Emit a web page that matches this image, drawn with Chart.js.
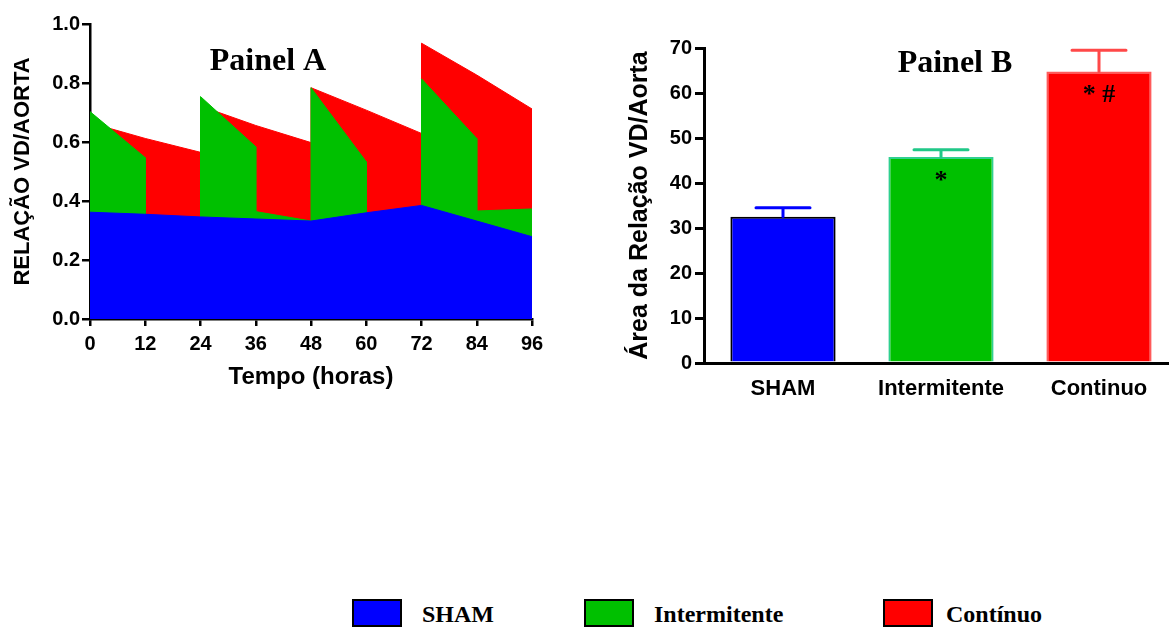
<!DOCTYPE html>
<html>
<head>
<meta charset="utf-8">
<script src="https://cdn.jsdelivr.net/npm/chart.js@4.4.1/dist/chart.umd.min.js"></script>
<style>
  html, body { margin: 0; padding: 0; background: #fff; }
  #wrap { position: relative; width: 1169px; height: 627px; overflow: hidden; }
  #chartA { position: absolute; left: 0; top: 0; }
  #chartB { position: absolute; left: 600px; top: 0; }
  .key { position: absolute; top: 599px; width: 50px; height: 28px; border: 2px solid #000; box-sizing: border-box; }
  .keyLabel { position: absolute; top: 602px; font: bold 24px "Liberation Serif", "Times New Roman", serif; line-height: 24px; color: #000; white-space: nowrap; }
</style>
</head>
<body>
<div id="wrap">
  <canvas id="chartA" width="560" height="400"></canvas>
  <canvas id="chartB" width="580" height="420"></canvas>
  <div id="legend"></div>
</div>
<script>
'use strict';

// ── Painel A: VD/Aorta ratio over time ────────
const HOURS_SHAM = [0, 12, 24, 36, 48, 60, 72, 84, 96];
const SHAM_RATIO = [0.362, 0.355, 0.346, 0.339, 0.332, 0.360, 0.385, 0.332, 0.279];

const HOURS_INTER = [0, 12, 12, 24, 24, 36, 36, 48, 48, 60, 60, 72, 72, 84, 84, 96];
const INTER_RATIO = [0.703, 0.547, 0.35, 0.34, 0.754, 0.584, 0.364, 0.332, 0.784, 0.533, 0.35, 0.37, 0.814, 0.612, 0.366, 0.373];

const HOURS_CONT = [0, 12, 24, 24, 36, 48, 48, 60, 72, 72, 84, 96];
const CONT_RATIO = [0.665, 0.612, 0.565, 0.722, 0.656, 0.598, 0.784, 0.708, 0.629, 0.935, 0.827, 0.712];

const HOUR_TICKS = [0, 12, 24, 36, 48, 60, 72, 84, 96];
const RATIO_TICKS = [0, 0.2, 0.4, 0.6, 0.8, 1.0];

// ── Painel B: area under the curve ────────────
const GROUPS    = ['SHAM', 'Intermitente', 'Continuo'];
const AREA_MEAN = [32.5, 45.8, 64.8];
const AREA_SEM  = [2.0, 1.6, 4.7];
const AREA_MARK = ['', '*', '* #'];
const AREA_TICKS = [0, 10, 20, 30, 40, 50, 60, 70];

// ── Legend ────────────────────────────────────
const LEGEND_NAMES = ['SHAM', 'Intermitente', 'Contínuo'];

const BLUE  = '#0000ff';
const GREEN = '#00c000';
const RED   = '#ff0000';
const BAR_BORDER = ['#000000', '#30d090', '#ff5a5a'];
const ERR_COLOR  = ['#0000ff', '#20c888', '#ff4848'];

const SANS  = '"Liberation Sans", Arial, sans-serif';
const SERIF = '"Liberation Serif", "Times New Roman", serif';

const pts = (xs, ys) => xs.map((x, i) => ({ x, y: ys[i] }));

// ── plugins ───────────────────────────────────
const panelTitle = {
  id: 'panelTitle',
  afterDraw(chart, args, opts) {
    const ctx = chart.ctx;
    ctx.save();
    ctx.font = 'bold 32px ' + SERIF;
    ctx.fillStyle = '#000';
    ctx.textAlign = 'center';
    ctx.textBaseline = 'alphabetic';
    ctx.fillText(opts.text, opts.x, opts.y);
    ctx.restore();
  }
};

const errorBars = {
  id: 'errorBars',
  afterDatasetsDraw(chart) {
    const ctx = chart.ctx;
    const yScale = chart.scales.y;
    chart.getDatasetMeta(0).data.forEach((bar, i) => {
      const top = yScale.getPixelForValue(AREA_MEAN[i] + AREA_SEM[i]);
      ctx.save();
      ctx.strokeStyle = ERR_COLOR[i];
      ctx.lineWidth = 3;
      ctx.lineCap = 'round';
      ctx.beginPath();
      ctx.moveTo(bar.x, bar.y);
      ctx.lineTo(bar.x, top);
      ctx.moveTo(bar.x - 27, top);
      ctx.lineTo(bar.x + 27, top);
      ctx.stroke();
      if (AREA_MARK[i]) {
        ctx.font = 'bold 26px ' + SERIF;
        ctx.fillStyle = '#000';
        ctx.textAlign = 'center';
        ctx.textBaseline = 'alphabetic';
        ctx.fillText(AREA_MARK[i], bar.x, bar.y + 31);
      }
      ctx.restore();
    });
  }
};

// ── Painel A ──────────────────────────────────
function areaSet(label, data, color) {
  return {
    label, data,
    backgroundColor: color,
    borderColor: color,
    borderWidth: 1,
    fill: 'origin',
    tension: 0,
    pointRadius: 0
  };
}

new Chart(document.getElementById('chartA'), {
  type: 'line',
  data: {
    datasets: [
      areaSet('SHAM', pts(HOURS_SHAM, SHAM_RATIO), BLUE),
      areaSet('Intermitente', pts(HOURS_INTER, INTER_RATIO), GREEN),
      areaSet('Contínuo', pts(HOURS_CONT, CONT_RATIO), RED)
    ]
  },
  options: {
    responsive: false,
    animation: false,
    events: [],
    layout: { padding: { top: 24, right: 28, left: 0, bottom: 0 } },
    plugins: {
      legend: { display: false },
      tooltip: { enabled: false },
      panelTitle: { text: 'Painel A', x: 268, y: 70 }
    },
    scales: {
      x: {
        type: 'linear', min: 0, max: 96,
        afterFit: s => { s.height = 81; },
        afterBuildTicks: s => { s.ticks = HOUR_TICKS.map(v => ({ value: v })); },
        border: { color: '#000', width: 2.5 },
        grid: { display: true, drawOnChartArea: false, color: '#000', lineWidth: 2.5, tickLength: 7 },
        ticks: { color: '#000', font: { family: SANS, size: 20, weight: 'bold' }, padding: 6, maxRotation: 0, autoSkip: false },
        title: { display: true, text: 'Tempo (horas)', color: '#000', font: { family: SANS, size: 24, weight: 'bold' }, padding: { top: 2, bottom: 8 } }
      },
      y: {
        min: 0, max: 1,
        afterFit: s => { s.width = 90; },
        afterBuildTicks: s => { s.ticks = RATIO_TICKS.map(v => ({ value: v })); },
        border: { color: '#000', width: 2.5 },
        grid: { display: true, drawOnChartArea: false, color: '#000', lineWidth: 2.5, tickLength: 8 },
        ticks: { color: '#000', font: { family: SANS, size: 20, weight: 'bold' }, padding: 2, callback: v => v.toFixed(1) },
        title: { display: true, text: 'RELAÇÃO VD/AORTA', color: '#000', font: { family: SANS, size: 22, weight: 'bold' }, padding: { top: 10, bottom: 0 } }
      }
    }
  },
  plugins: [panelTitle]
});

// ── Painel B ──────────────────────────────────
new Chart(document.getElementById('chartB'), {
  type: 'bar',
  data: {
    labels: GROUPS,
    datasets: [{
      data: AREA_MEAN,
      backgroundColor: [BLUE, GREEN, RED],
      borderColor: BAR_BORDER,
      borderWidth: 2,
      categoryPercentage: 1,
      barPercentage: 0.666
    }]
  },
  options: {
    responsive: false,
    animation: false,
    events: [],
    layout: { padding: { top: 48, right: 2, left: 0, bottom: 0 } },
    plugins: {
      legend: { display: false },
      tooltip: { enabled: false },
      panelTitle: { text: 'Painel B', x: 355, y: 72 }
    },
    scales: {
      x: {
        afterFit: s => { s.height = 57; },
        border: { color: '#000', width: 3 },
        grid: { display: false },
        ticks: { color: '#000', font: { family: SANS, size: 22, weight: 'bold' }, padding: 5 }
      },
      y: {
        min: 0, max: 70,
        afterFit: s => { s.width = 104; },
        afterBuildTicks: s => { s.ticks = AREA_TICKS.map(v => ({ value: v })); },
        border: { color: '#000', width: 3 },
        grid: { display: true, drawOnChartArea: false, color: '#000', lineWidth: 3, tickLength: 9 },
        ticks: { color: '#000', font: { family: SANS, size: 20, weight: 'bold' }, padding: 3 },
        title: { display: true, text: 'Área da Relação VD/Aorta', color: '#000', font: { family: SANS, size: 25, weight: 'bold' }, padding: { top: 25, bottom: 0 } }
      }
    }
  },
  plugins: [panelTitle, errorBars]
});

// ── Legend ────────────────────────────────────
const KEY_LEFT   = [352, 584, 883];
const LABEL_LEFT = [422, 654, 946];
const keyColors  = [BLUE, GREEN, RED];
const legend = document.getElementById('legend');
LEGEND_NAMES.forEach((name, i) => {
  const box = document.createElement('div');
  box.className = 'key';
  box.style.left = KEY_LEFT[i] + 'px';
  box.style.background = keyColors[i];
  legend.appendChild(box);
  const txt = document.createElement('div');
  txt.className = 'keyLabel';
  txt.style.left = LABEL_LEFT[i] + 'px';
  txt.textContent = name;
  legend.appendChild(txt);
});
</script>
</body>
</html>
